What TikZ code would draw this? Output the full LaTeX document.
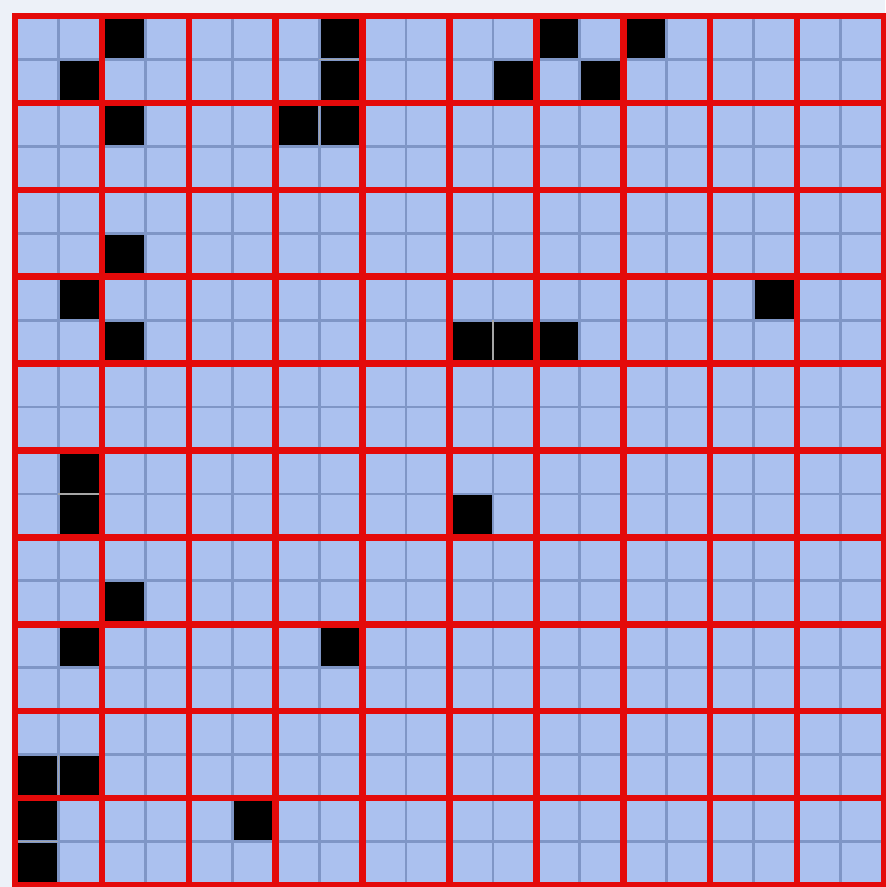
\documentclass[tikz,border=0pt]{standalone}
\definecolor{bgcol}{HTML}{EDF1F8}
\definecolor{cellcol}{HTML}{ABC1EF}
\definecolor{thincol}{HTML}{7F96C6}
\definecolor{redcol}{HTML}{E40A0A}
\begin{document}
\begin{tikzpicture}[x=0.03cm,y=-0.03cm,
  thinline/.style={draw=thincol,line width=2.4pt},
  sepline/.style={draw=gray!70,line width=1pt},
  redline/.style={draw=redcol,line width=5.6pt,line cap=rect},
  blackcell/.style={fill=black}]
\def\ox{15}\def\oy{16}\def\s{43.45}
\fill[bgcol] (0,0) rectangle (885,887);
\useasboundingbox (0,0) rectangle (885,887);
\fill[cellcol] (\ox,\oy) rectangle ({\ox+20*\s},{\oy+20*\s});
% black cells (column, row) counted from top-left
\foreach \c/\r in {2/0,7/0,12/0,14/0,
                   1/1,7/1,11/1,13/1,
                   2/2,6/2,7/2,
                   2/5,
                   1/6,17/6,
                   2/7,10/7,11/7,12/7,
                   1/10,
                   1/11,10/11,
                   2/13,
                   1/14,7/14,
                   0/17,1/17,
                   0/18,5/18,
                   0/19}
  \fill[blackcell] ({\ox+\c*\s},{\oy+\r*\s}) rectangle ({\ox+(\c+1)*\s},{\oy+(\r+1)*\s});
% thin cell lines
\foreach \i in {1,3,...,19} {
  \draw[thinline] ({\ox+\i*\s},\oy) -- ({\ox+\i*\s},{\oy+20*\s});
  \draw[thinline] (\ox,{\oy+\i*\s}) -- ({\ox+20*\s},{\oy+\i*\s});
}
% thin grey separators between adjacent black cells
\draw[sepline] ({\ox+7*\s},{\oy+1*\s}) -- ({\ox+8*\s},{\oy+1*\s});
\draw[sepline] ({\ox+7*\s},{\oy+2*\s}) -- ({\ox+7*\s},{\oy+3*\s});
\draw[sepline] ({\ox+11*\s},{\oy+7*\s}) -- ({\ox+11*\s},{\oy+8*\s});
\draw[sepline] ({\ox+1*\s},{\oy+11*\s}) -- ({\ox+2*\s},{\oy+11*\s});
\draw[sepline] ({\ox+1*\s},{\oy+17*\s}) -- ({\ox+1*\s},{\oy+18*\s});
\draw[sepline] ({\ox+0*\s},{\oy+19*\s}) -- ({\ox+1*\s},{\oy+19*\s});
% red block lines
\foreach \i in {0,2,...,20} {
  \draw[redline] ({\ox+\i*\s},\oy) -- ({\ox+\i*\s},{\oy+20*\s});
  \draw[redline] (\ox,{\oy+\i*\s}) -- ({\ox+20*\s},{\oy+\i*\s});
}
\end{tikzpicture}
\end{document}
